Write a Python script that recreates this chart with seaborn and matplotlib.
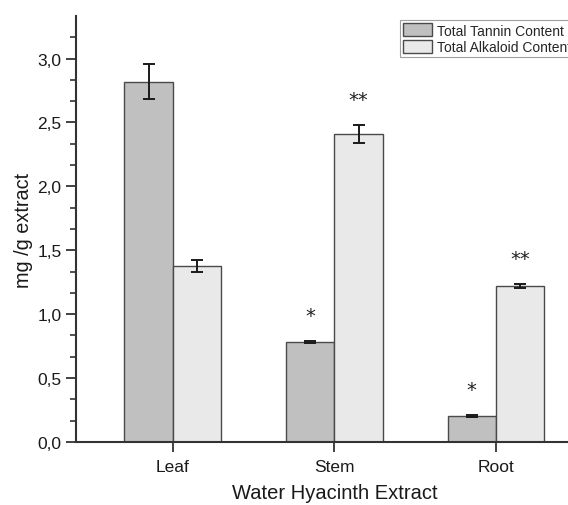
import pandas as pd
import matplotlib
matplotlib.use('Agg')
import matplotlib.pyplot as plt
from matplotlib.ticker import MultipleLocator
import seaborn as sns

# values (mg/g extract)
parts = ['Leaf', 'Stem', 'Root']
tannin = [2.82, 0.78, 0.205]
tannin_err = [0.14, 0.008, 0.006]
alkaloid = [1.38, 2.41, 1.22]
alkaloid_err = [0.047, 0.07, 0.018]
tannin_marks = ['', '*', '*']
alkaloid_marks = ['', '**', '**']
yticks = [0.0, 0.5, 1.0, 1.5, 2.0, 2.5, 3.0]
ytick_labels = ['0,0', '0,5', '1,0', '1,5', '2,0', '2,5', '3,0']

df = pd.DataFrame({
    'part': parts * 2,
    'content': ['Total Tannin Content'] * 3 + ['Total Alkaloid Content'] * 3,
    'value': tannin + alkaloid,
})

sns.set_style('ticks')
plt.rcParams['font.family'] = ['Liberation Sans', 'DejaVu Sans']

fig = plt.figure(figsize=(5.68, 5.06), dpi=100)
ax = fig.add_axes([0.1338, 0.1245, 0.910, 0.842])

sns.barplot(data=df, x='part', y='value', hue='content', order=parts,
            palette=['#c0c0c0', '#e9e9e9'], width=0.6, errorbar=None,
            edgecolor='#4a4a4a', linewidth=1.0, ax=ax)

# error bars and significance marks on top of each bar
for cont, errs, marks in zip(ax.containers, [tannin_err, alkaloid_err],
                             [tannin_marks, alkaloid_marks]):
    for bar, e, m in zip(cont, errs, marks):
        xc = bar.get_x() + bar.get_width() / 2
        h = bar.get_height()
        ax.errorbar(xc, h, yerr=e, color='#1a1a1a', capsize=4.5,
                    elinewidth=1.4, capthick=1.4, fmt='none')
        if m:
            ax.text(xc, h + e + 0.2, m, ha='center', va='center',
                    fontsize=14, color='#222222', family='DejaVu Sans')

ax.set_xlim(-0.6, 2.6)
ax.set_ylim(0, 3.3333)
ax.set_yticks(yticks)
ax.set_yticklabels(ytick_labels)
ax.yaxis.set_minor_locator(MultipleLocator(0.5 / 3))
ax.tick_params(axis='both', which='major', labelsize=12.5, length=7,
               width=1.3, color='#333333', labelcolor='#1a1a1a')
ax.tick_params(axis='y', which='minor', length=4, width=1.2, color='#333333')
ax.tick_params(axis='x', pad=5)
ax.set_xlabel('Water Hyacinth Extract', fontsize=14.5, color='#1a1a1a', labelpad=7)
ax.set_ylabel('mg /g extract', fontsize=14.3, color='#1a1a1a', labelpad=3)

for s in ['top', 'right']:
    ax.spines[s].set_visible(False)
for s in ['left', 'bottom']:
    ax.spines[s].set_color('#333333')
    ax.spines[s].set_linewidth(1.5)

leg = ax.legend(loc='upper left', bbox_to_anchor=(400 / 568, 1 - 21.3 / 506),
                bbox_transform=fig.transFigure, fontsize=10, frameon=True,
                fancybox=False, edgecolor='#888888', borderpad=0.22,
                labelspacing=0.15, handlelength=2.1, handleheight=1.05,
                handletextpad=0.35, borderaxespad=0)
leg.get_frame().set_linewidth(0.8)

fig.savefig('out.png', dpi=100)
